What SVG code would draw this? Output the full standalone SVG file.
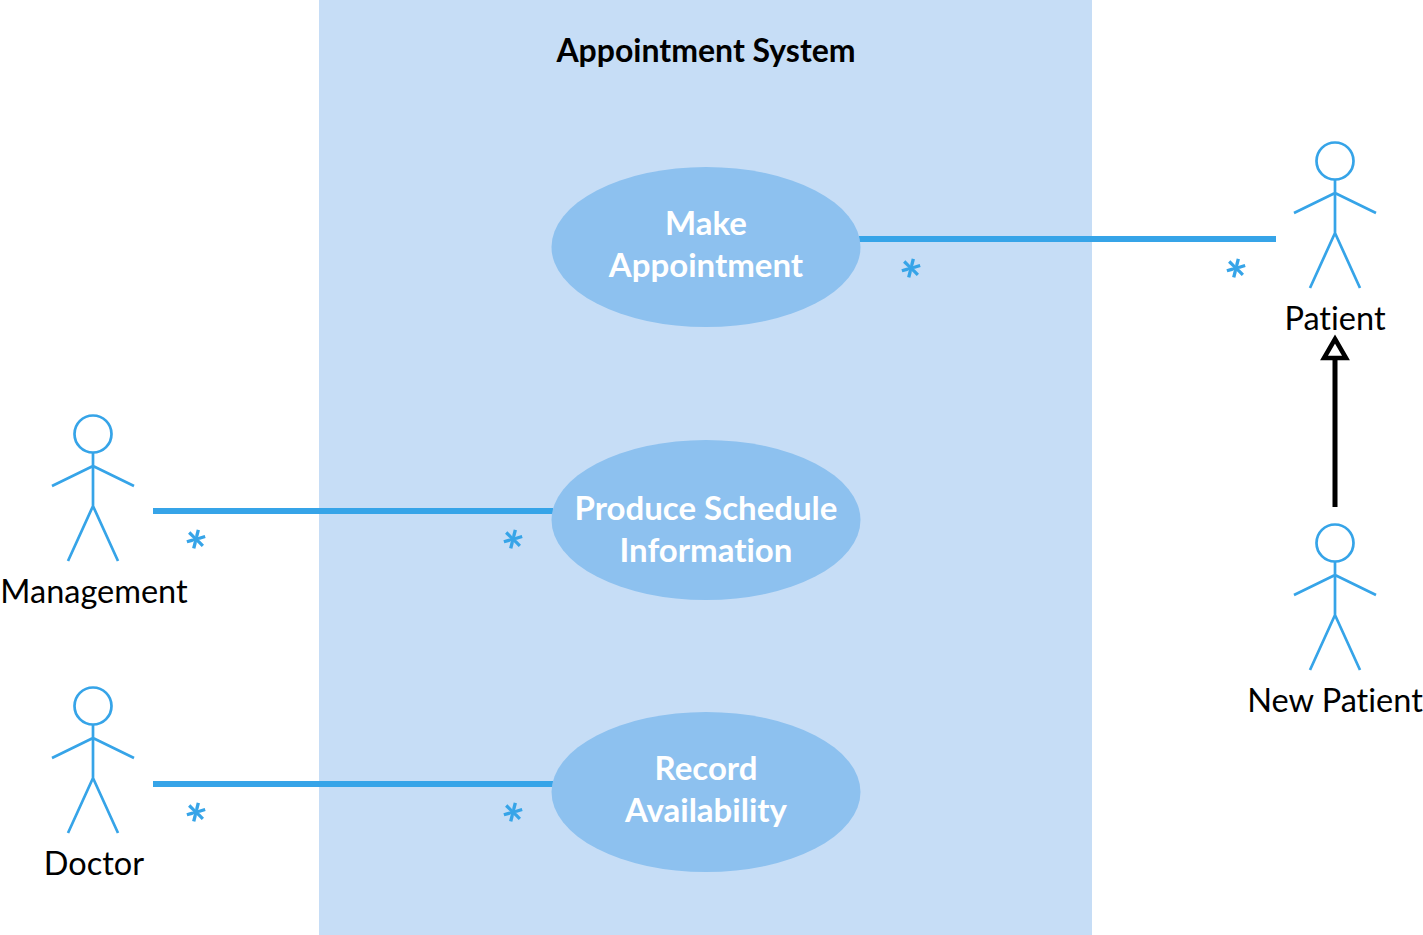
<svg xmlns="http://www.w3.org/2000/svg" xmlns:xlink="http://www.w3.org/1999/xlink" width="1423" height="935" viewBox="0 0 1423 935">
<style>
text{font-family:"Lato","Open Sans",sans-serif;text-anchor:middle;font-variant-ligatures:none}
.uc{fill:#8dc1ef}
.uct{fill:#fff;font-weight:700;font-size:33px}
.lbl{fill:#000;font-size:32.5px}
.act{fill:none;stroke:#36a4e8;stroke-width:2.7;stroke-linecap:butt;stroke-linejoin:round}
.assoc{fill:none;stroke:#36a4e8;stroke-width:6}
.mult{fill:#36a4e8;font-size:56px;font-weight:700}
</style>
<defs>
<g id="actor" class="act">
<circle cx="0" cy="0" r="18.5"/>
<path d="M0 19V72M-41 52L0 32L41 52M-25 127L0 72L25 127"/>
</g>
</defs>
<rect id="system" x="319" y="0" width="773" height="935" fill="#c6ddf6"/>
<text id="system-title" x="706" y="61.500" font-size="32" font-weight="700" fill="#000">Appointment System</text>
<g id="connectors">
<path class="assoc" d="M859 239H1276M153 511H553M153 784H553"/>
<path d="M1335 507V358" fill="none" stroke="#000" stroke-width="5"/>
<path d="M1335 339L1346 358H1324Z" fill="#fff" stroke="#000" stroke-width="4.5"/>
<text class="mult" transform="rotate(14 911 268)" x="911" y="301">*</text>
<text class="mult" transform="rotate(14 1236 268)" x="1236" y="301">*</text>
<text class="mult" transform="rotate(14 196 539)" x="196" y="572">*</text>
<text class="mult" transform="rotate(14 513 539)" x="513" y="572">*</text>
<text class="mult" transform="rotate(14 196 812)" x="196" y="845">*</text>
<text class="mult" transform="rotate(14 513 812)" x="513" y="845">*</text>
</g>
<g id="uc-make"><ellipse class="uc" cx="706" cy="247" rx="154.5" ry="80"/><text class="uct" x="706" y="235">Make</text><text class="uct" x="706" y="277">Appointment</text></g>
<g id="uc-produce"><ellipse class="uc" cx="706" cy="520" rx="154.5" ry="80"/><text class="uct" x="706" y="520">Produce Schedule</text><text class="uct" x="706" y="562">Information</text></g>
<g id="uc-record"><ellipse class="uc" cx="706" cy="792" rx="154.5" ry="80"/><text class="uct" x="706" y="780">Record</text><text class="uct" x="706" y="822">Availability</text></g>
<g id="actor-patient"><use xlink:href="#actor" href="#actor" x="1335" y="161"/><text class="lbl" x="1335" y="330">Patient</text></g>
<g id="actor-new-patient"><use xlink:href="#actor" href="#actor" x="1335" y="543"/><text class="lbl" x="1335" y="712">New Patient</text></g>
<g id="actor-management"><use xlink:href="#actor" href="#actor" x="93" y="434"/><text class="lbl" x="94" y="603">Management</text></g>
<g id="actor-doctor"><use xlink:href="#actor" href="#actor" x="93" y="706"/><text class="lbl" x="94" y="875">Doctor</text></g>
</svg>
